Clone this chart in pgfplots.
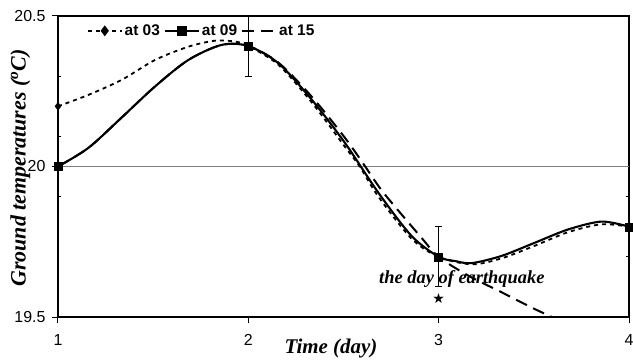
\documentclass[border=0pt]{standalone}
\usepackage{pgfplots}
\pgfplotsset{compat=1.18}
\usepackage{fontspec}
\setmainfont{Liberation Sans}
\newfontfamily\serif{Liberation Serif}
\newfontfamily\symfont{DejaVu Sans}
\begin{document}
\begin{tikzpicture}
\useasboundingbox (-58bp,-44bp) rectangle (575bp,317bp);
\begin{axis}[
  scale only axis, width=571bp, height=301bp,
  xmin=1, xmax=4, ymin=19.5, ymax=20.5,
  xtick={1,2,3,4}, xticklabels={1,2,3,4},
  ytick={19.5,20,20.5}, yticklabels={19.5,20,20.5},
  tick align=outside, xtick pos=bottom, ytick pos=left,
  major tick length=6bp,
  tick style={black, line width=1bp},
  axis line style={line width=1.5bp},
  ticklabel style={font=\fontsize{16}{16}\selectfont},
  xticklabel style={yshift=-8bp},
  yticklabel style={xshift=-3bp},
  extra y ticks={20}, extra y tick labels={},
  extra y tick style={grid=major, major grid style={gray, line width=1bp}, major tick length=0pt},
  xlabel={\serif\bfseries\itshape Time (day)},
  xlabel style={at={(axis description cs:0.478,-0.103)}, anchor=center, font=\fontsize{21}{21}\selectfont},
  ylabel={\serif\bfseries\itshape Ground temperatures (\textsuperscript{o}C)},
  ylabel style={at={(axis description cs:-0.066,0.495)}, anchor=center, font=\fontsize{22}{22}\selectfont},
  legend style={at={(axis description cs:0.045,0.985)}, anchor=north west, draw=none, fill=none,
    legend columns=3, font=\bfseries\fontsize{15.5}{15.5}\selectfont,
    /tikz/every even column/.append style={column sep=2bp}},
  legend image code/.code={\draw[mark repeat=2, mark phase=2, #1] plot coordinates {(0cm,0cm)(0.6cm,0cm)(1.2cm,0cm)};},
  err/.style={error bars/.cd, y dir=both, y fixed=0.1,
    error bar style={solid, line width=1bp},
    error mark options={rotate=90, mark size=3.5bp, line width=1bp, solid}},
]
% at 03 : curve
\addplot[black, line width=1.8bp, dash pattern=on 4bp off 4bp, smooth, tension=0.5, forget plot]
  coordinates {(1,20.2)(1.16,20.238)(1.335,20.288)(1.51,20.354)(1.685,20.398)(1.825,20.418)(1.93,20.415)(2,20.4)
  (2.158,20.338)(2.333,20.213)(2.508,20.065)(2.585,20.0)(2.683,19.9)(2.858,19.76)(3,19.7)
  (3.174,19.675)(3.331,19.695)(3.506,19.737)(3.681,19.782)(3.856,19.808)(4,19.8)};
\addplot[black, only marks, mark=diamond*, mark size=4bp, forget plot, err]
  coordinates {(1,20.2)(2,20.4)(3,19.7)(4,19.8)};
% at 09
\addplot[black, line width=2.1bp, smooth, tension=0.5, forget plot]
  coordinates {(1,20)(1.16,20.062)(1.335,20.163)(1.51,20.266)(1.685,20.354)(1.86,20.404)(2,20.4)
  (2.158,20.343)(2.333,20.222)(2.508,20.078)(2.683,19.913)(2.858,19.769)(3,19.7)
  (3.086,19.686)(3.174,19.679)(3.331,19.703)(3.506,19.747)(3.681,19.791)(3.856,19.817)(4,19.8)};
\addplot[black, only marks, mark=square*, mark size=4bp, forget plot, err]
  coordinates {(1,20)(2,20.4)(3,19.7)(4,19.8)};
% at 15
\addplot[black, line width=2bp, dash pattern=on 12bp off 7bp, smooth, tension=0.5, forget plot]
  coordinates {(1,20)(1.16,20.062)(1.335,20.163)(1.51,20.266)(1.685,20.354)(1.86,20.404)(2,20.4)
  (2.158,20.345)(2.333,20.232)(2.508,20.095)(2.614,20.0)(2.71,19.913)(2.902,19.769)(3,19.7)
  (3.157,19.637)(3.331,19.582)(3.506,19.526)(3.7,19.47)};
\addlegendimage{black, line width=1.8bp, dash pattern=on 4bp off 4bp, mark=diamond*, mark size=4bp, mark options={solid}}
\addlegendentry{at 03}
\addlegendimage{black, line width=2.1bp, mark=square*, mark size=4bp}
\addlegendentry{at 09}
\addlegendimage{black, line width=2bp, dash pattern=on 12bp off 7bp}
\addlegendentry{at 15}
\addplot[only marks, mark=text, text mark={\symfont\fontsize{14}{14}\selectfont ★}, forget plot]
  coordinates {(3,19.563)};
\node[font=\serif\bfseries\itshape\fontsize{18.5}{18.5}\selectfont] at (axis cs:3.122,19.626) {the day of earthquake};
\end{axis}
\end{tikzpicture}
\end{document}
